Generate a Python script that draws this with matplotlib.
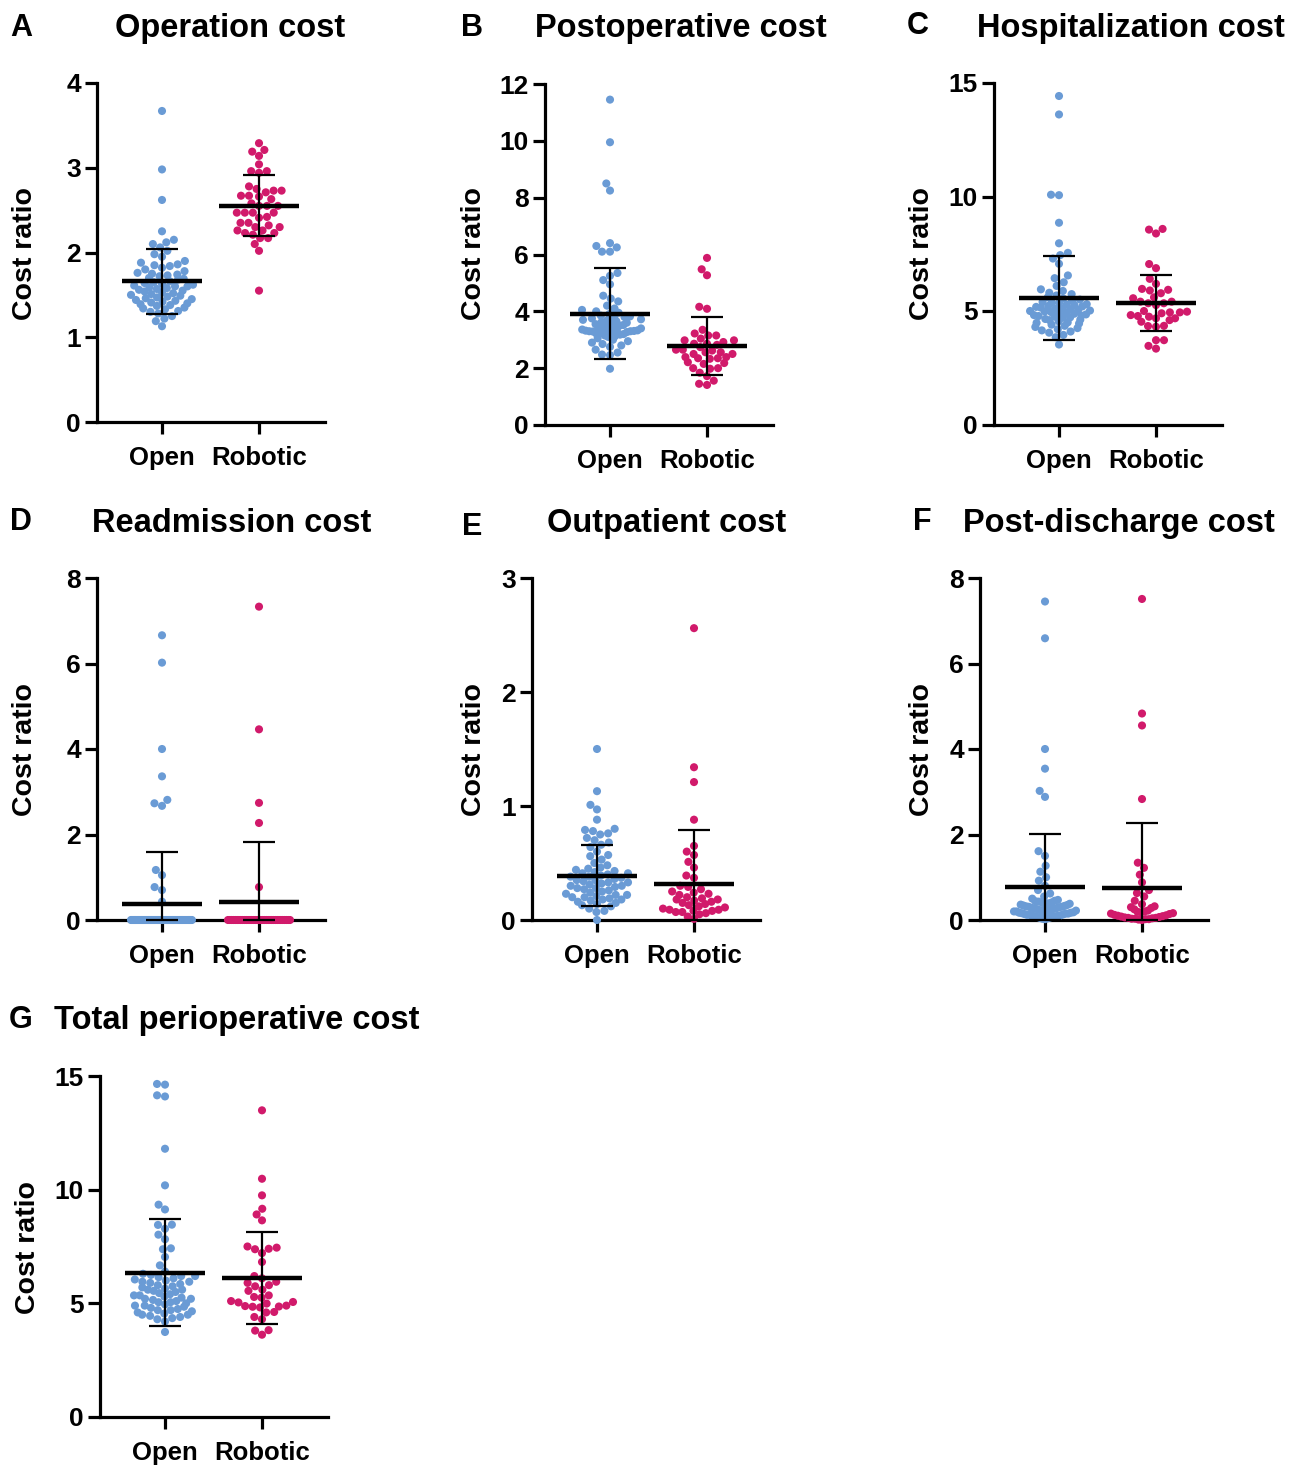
import numpy as np
import matplotlib
matplotlib.use('Agg')
import matplotlib.pyplot as plt

plt.rcParams['font.family'] = ['Liberation Sans', 'DejaVu Sans']
plt.rcParams['font.weight'] = 'bold'

# ---------------- data ----------------
groups = ['Open', 'Robotic']
panel_letters = ['A', 'B', 'C', 'D', 'E', 'F', 'G']
panel_titles = ['Operation cost', 'Postoperative cost', 'Hospitalization cost',
                'Readmission cost', 'Outpatient cost', 'Post-discharge cost',
                'Total perioperative cost']
y_label = 'Cost ratio'

A_open = [3.67, 2.98, 2.62, 2.25, 2.15, 2.12, 2.10, 2.06, 2.02, 1.98, 1.95, 1.90, 1.88, 1.86,
          1.85, 1.84, 1.82, 1.80, 1.78, 1.76, 1.75, 1.74, 1.73, 1.72, 1.70, 1.69, 1.68, 1.66,
          1.65, 1.64, 1.63, 1.62, 1.61, 1.60, 1.60, 1.59, 1.58, 1.57, 1.56, 1.55, 1.54, 1.53,
          1.52, 1.51, 1.50, 1.49, 1.48, 1.47, 1.46, 1.45, 1.44, 1.43, 1.42, 1.41, 1.40, 1.39,
          1.38, 1.37, 1.35, 1.34, 1.33, 1.31, 1.30, 1.28, 1.25, 1.22, 1.19, 1.13]
A_robotic = [3.29, 3.21, 3.19, 3.14, 3.04, 2.96, 2.94, 2.96, 2.78, 2.73, 2.73, 2.75, 2.71, 2.67,
             2.67, 2.66, 2.63, 2.58, 2.55, 2.55, 2.55, 2.47, 2.47, 2.47, 2.47, 2.42, 2.41, 2.35,
             2.35, 2.30, 2.30, 2.32, 2.26, 2.26, 2.23, 2.23, 2.21, 2.17, 2.17, 2.10, 2.02, 1.55]

B_open = [11.45, 9.95, 8.5, 8.25, 6.4, 6.3, 6.25, 6.1, 6.1, 5.35, 5.25, 5.1, 4.95, 4.55, 4.45,
          4.35, 4.2, 4.1, 4.05, 4.0, 3.95, 3.9, 3.85, 3.82, 3.8, 3.78, 3.75, 3.72, 3.7, 3.68,
          3.65, 3.62, 3.6, 3.58, 3.55, 3.52, 3.5, 3.48, 3.45, 3.42, 3.4, 3.38, 3.36, 3.35, 3.33,
          3.32, 3.31, 3.3, 3.3, 3.29, 3.28, 3.27, 3.25, 3.22, 3.2, 3.18, 3.15, 3.12, 3.1, 3.05,
          3.0, 2.95, 2.9, 2.85, 2.8, 2.75, 2.65, 2.55, 2.48, 2.46, 1.98]
B_robotic = [5.88, 5.48, 5.27, 4.16, 4.09, 3.35, 3.22, 3.15, 3.15, 3.04, 2.98, 2.98, 2.92, 2.86,
             2.86, 2.82, 2.74, 2.65, 2.65, 2.62, 2.56, 2.56, 2.50, 2.50, 2.39, 2.39, 2.35, 2.35,
             2.33, 2.21, 2.18, 2.15, 2.00, 2.00, 1.98, 1.84, 1.72, 1.56, 1.45, 1.41]

C_open = [14.43, 13.62, 10.1, 10.08, 8.87, 7.97, 7.55, 7.45, 7.3, 7.07, 6.56, 6.44, 6.26, 6.1,
          5.95, 5.88, 5.8, 5.74, 5.68, 5.6, 5.55, 5.5, 5.45, 5.4, 5.38, 5.35, 5.3, 5.28, 5.25,
          5.22, 5.2, 5.18, 5.15, 5.12, 5.1, 5.08, 5.05, 5.02, 5.0, 4.98, 4.95, 4.92, 4.9, 4.88,
          4.85, 4.82, 4.8, 4.78, 4.75, 4.72, 4.7, 4.65, 4.62, 4.6, 4.55, 4.5, 4.48, 4.45, 4.4,
          4.35, 4.3, 4.25, 4.2, 4.15, 4.1, 4.05, 3.95, 3.85, 3.53]
C_robotic = [8.6, 8.57, 8.4, 7.06, 6.88, 6.41, 6.19, 5.97, 5.93, 5.9, 5.78, 5.6, 5.56, 5.41,
             5.41, 5.34, 5.34, 5.26, 5.0, 4.97, 4.94, 4.94, 4.9, 4.82, 4.78, 4.75, 4.68, 4.68,
             4.6, 4.53, 4.35, 4.34, 4.31, 3.72, 3.72, 3.47, 3.35]

D_open = [6.66, 6.02, 4.0, 3.36, 2.81, 2.73, 2.67, 1.17, 1.05, 0.77, 0.70, 0.43,
          0, 0, 0, 0, 0, 0, 0, 0, 0, 0, 0, 0, 0, 0, 0, 0, 0, 0, 0, 0, 0, 0, 0, 0, 0, 0, 0, 0, 0,
          0, 0, 0, 0, 0, 0, 0, 0, 0, 0, 0, 0, 0, 0, 0, 0, 0, 0, 0, 0, 0, 0, 0, 0, 0, 0, 0, 0, 0]
D_robotic = [7.33, 4.46, 2.74, 2.27, 0.77,
             0, 0, 0, 0, 0, 0, 0, 0, 0, 0, 0, 0, 0, 0, 0, 0, 0, 0, 0, 0, 0, 0, 0, 0, 0, 0, 0, 0,
             0, 0, 0, 0, 0, 0, 0]

E_open = [1.5, 1.13, 1.01, 0.97, 0.88, 0.8, 0.79, 0.78, 0.76, 0.75, 0.72, 0.7, 0.68, 0.66, 0.64,
          0.6, 0.57, 0.56, 0.53, 0.5, 0.48, 0.46, 0.45, 0.44, 0.43, 0.42, 0.41, 0.41, 0.4, 0.39,
          0.38, 0.38, 0.37, 0.36, 0.35, 0.35, 0.34, 0.33, 0.33, 0.32, 0.31, 0.3, 0.3, 0.29, 0.28,
          0.28, 0.27, 0.26, 0.25, 0.24, 0.23, 0.22, 0.22, 0.21, 0.2, 0.2, 0.19, 0.18, 0.18, 0.17,
          0.16, 0.15, 0.14, 0.13, 0.12, 0.1, 0.08, 0.07, 0.0]
E_robotic = [2.56, 1.34, 1.21, 0.88, 0.65, 0.6, 0.57, 0.51, 0.46, 0.39, 0.37, 0.3, 0.29, 0.27,
             0.25, 0.24, 0.23, 0.22, 0.2, 0.19, 0.18, 0.18, 0.17, 0.16, 0.15, 0.14, 0.13, 0.12,
             0.11, 0.1, 0.09, 0.09, 0.08, 0.08, 0.07, 0.07, 0.06, 0.05, 0.03, 0.01]

F_open = [7.45, 6.59, 4.0, 3.54, 3.02, 2.88, 1.61, 1.5, 1.27, 1.13, 1.0, 0.92, 0.8, 0.7, 0.62,
          0.55, 0.5, 0.47, 0.45, 0.44, 0.43, 0.41, 0.4, 0.39, 0.38, 0.37, 0.36, 0.35, 0.34, 0.33,
          0.32, 0.31, 0.31, 0.3, 0.29, 0.28, 0.27, 0.26, 0.26, 0.25, 0.24, 0.23, 0.22, 0.22, 0.21,
          0.2, 0.2, 0.19, 0.18, 0.17, 0.17, 0.16, 0.15, 0.15, 0.14, 0.13, 0.12, 0.12, 0.11, 0.1,
          0.1, 0.09, 0.08, 0.08, 0.07, 0.06, 0.05, 0.04, 0.03, 0.02]
F_robotic = [7.51, 4.83, 4.55, 2.83, 1.34, 1.22, 1.06, 0.88, 0.7, 0.63, 0.55, 0.45, 0.37, 0.32,
             0.3, 0.28, 0.25, 0.22, 0.2, 0.19, 0.18, 0.16, 0.15, 0.14, 0.12, 0.11, 0.1, 0.09,
             0.08, 0.07, 0.06, 0.05, 0.05, 0.04, 0.03, 0.03, 0.02, 0.02, 0.01, 0.0]

G_open = [14.65, 14.62, 14.15, 14.1, 11.8, 10.19, 9.34, 9.13, 8.46, 8.45, 8.28, 8.02, 7.82,
          7.42, 7.38, 7.04, 6.67, 6.4, 6.3, 6.25, 6.2, 6.2, 6.15, 6.1, 6.05, 6.0, 5.95, 5.95,
          5.9, 5.85, 5.8, 5.75, 5.7, 5.65, 5.6, 5.6, 5.55, 5.5, 5.45, 5.4, 5.35, 5.35, 5.3, 5.25,
          5.2, 5.2, 5.15, 5.1, 5.05, 5.05, 5.0, 4.95, 4.9, 4.9, 4.85, 4.8, 4.75, 4.7, 4.7, 4.65,
          4.6, 4.55, 4.5, 4.5, 4.45, 4.4, 4.35, 4.3, 4.2, 3.74]
G_robotic = [13.49, 10.48, 9.75, 9.16, 8.91, 8.65, 7.5, 7.45, 7.4, 7.38, 7.21, 6.82, 6.2, 6.1,
             5.95, 5.9, 5.8, 5.75, 5.6, 5.55, 5.35, 5.28, 5.25, 5.1, 5.06, 5.04, 4.99, 4.9, 4.88,
             4.86, 4.85, 4.82, 4.62, 4.6, 4.4, 4.3, 3.82, 3.8, 3.62]

open_values = [A_open, B_open, C_open, D_open, E_open, F_open, G_open]
robotic_values = [A_robotic, B_robotic, C_robotic, D_robotic, E_robotic, F_robotic, G_robotic]

mean_open = [1.66, 3.92, 5.56, 0.375, 0.39, 0.77, 6.35]
sd_open = [0.385, 1.60, 1.84, 1.215, 0.265, 1.25, 2.34]
mean_robotic = [2.55, 2.78, 5.34, 0.41, 0.32, 0.75, 6.11]
sd_robotic = [0.36, 1.02, 1.22, 1.41, 0.47, 1.52, 2.04]

y_max = [4, 12, 15, 8, 3, 8, 15]
y_step = [1, 2, 5, 2, 1, 2, 5]

# ---------------- layout (pixels) ----------------
W, H = 1290, 1465
# (x of Open category, top of axis, bottom of axis)
axes_px = [(162, 83, 422), (610, 84, 425), (1059, 83, 425),
           (162, 578, 920), (597, 578, 920), (1045, 578, 920),
           (165, 1076, 1417)]
left_off, ax_w, unit_px = 65, 228, 97
title_px = [(230, 28), (681, 28), (1131, 28), (232, 523), (667, 523), (1119, 523), (237, 1020)]
letter_px = [(21, 28), (472, 28), (918, 26), (21, 522), (472, 527), (922, 522), (21, 1020)]
ylab_px = [(25, 253), (474, 253), (922, 253), (25, 750), (474, 750), (922, 750), (28, 1247)]

colors = ['#6A9BD5', '#D11A6B']
dot_px = 8.0
max_half = 31.0


def swarm(ypix, d, maxw):
    ypix = np.asarray(ypix, float)
    n = len(ypix)
    xs = np.zeros(n)
    placed = []
    for i in np.argsort(ypix, kind='stable'):
        y = ypix[i]
        ivs = []
        for j in placed:
            dy = abs(y - ypix[j])
            if dy < d:
                h = np.sqrt(d * d - dy * dy)
                ivs.append((xs[j] - h, xs[j] + h))
        cands = [0.0] + [a for a, b in ivs] + [b for a, b in ivs]
        cands.sort(key=abs)
        for c in cands:
            if all(not (a + 1e-6 < c < b - 1e-6) for a, b in ivs):
                xs[i] = c
                break
        placed.append(i)
    out = xs.copy()
    for i in range(n):
        near = np.abs(ypix - ypix[i]) < d
        rowmax = np.max(np.abs(xs[near]))
        if rowmax > maxw:
            out[i] = xs[i] * maxw / rowmax
    return out


fig = plt.figure(figsize=(W / 100, H / 100), dpi=100)

for k in range(7):
    ox, top, bot = axes_px[k]
    left = ox - left_off
    ax = fig.add_axes([left / W, 1 - bot / H, ax_w / W, (bot - top) / H])
    ax.set_xlim(-left_off / unit_px, (ax_w - left_off) / unit_px)
    ax.set_ylim(0, y_max[k])
    for s in ['top', 'right']:
        ax.spines[s].set_visible(False)
    for s in ['left', 'bottom']:
        ax.spines[s].set_linewidth(2.3)
    ticks = np.arange(0, y_max[k] + 0.001, y_step[k])
    ax.set_yticks(ticks)
    ax.set_yticklabels([str(int(v)) for v in ticks])
    ax.set_xticks([0, 1])
    ax.set_xticklabels(groups)
    ax.tick_params(axis='y', direction='out', length=8.5, width=2.3, labelsize=19, pad=3)
    ax.tick_params(axis='x', direction='out', length=8.5, width=2.3, labelsize=18.5, pad=8.5)
    for lab in ax.get_xticklabels() + ax.get_yticklabels():
        lab.set_fontweight('bold')

    p0 = ax.transData.transform((0, 0))
    p1 = ax.transData.transform((1, 1))
    px_x = p1[0] - p0[0]
    px_y = p1[1] - p0[1]

    for g, vals in enumerate([open_values[k], robotic_values[k]]):
        vals = np.asarray(vals, float)
        offs = swarm(vals * px_y, dot_px, max_half) / px_x
        ax.scatter(g + offs, vals, s=34, color=colors[g], edgecolors='none',
                   zorder=3, clip_on=False)
        m = [mean_open, mean_robotic][g][k]
        sd = [sd_open, sd_robotic][g][k]
        hi = m + sd
        lo = max(m - sd, 0)
        ax.plot([g, g], [lo, hi], color='black', lw=1.6, zorder=5, clip_on=False,
                solid_capstyle='butt')
        for yy in (lo, hi):
            ax.plot([g - 0.165, g + 0.165], [yy, yy], color='black', lw=1.6, zorder=5,
                    clip_on=False, solid_capstyle='butt')
        ax.plot([g - 0.41, g + 0.41], [m, m], color='black', lw=3.2, zorder=6,
                clip_on=False, solid_capstyle='butt')

    tx, ty = title_px[k]
    fig.text(tx / W, 1 - ty / H, panel_titles[k], ha='center', va='center',
             fontsize=23.5, fontweight='bold')
    lx, ly = letter_px[k]
    fig.text(lx / W, 1 - ly / H, panel_letters[k], ha='center', va='center',
             fontsize=22, fontweight='bold')
    yx, yy_ = ylab_px[k]
    fig.text(yx / W, 1 - yy_ / H, y_label, ha='center', va='center', rotation=90,
             fontsize=20.5, fontweight='bold')

fig.savefig('out.png', dpi=100, facecolor='white')
